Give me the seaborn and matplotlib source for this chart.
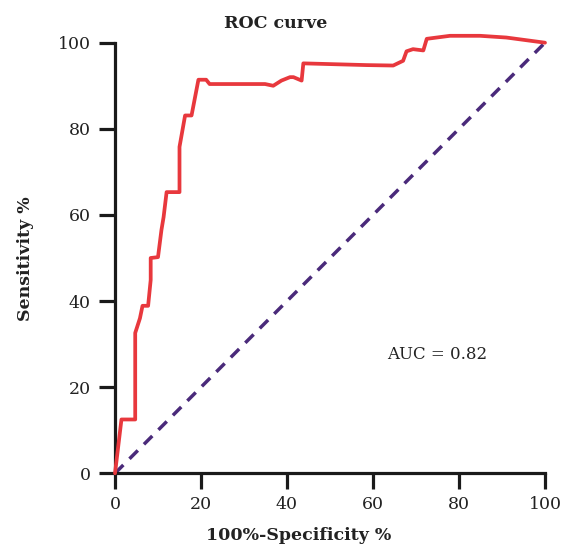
import matplotlib
matplotlib.use("Agg")
import matplotlib.pyplot as plt
import seaborn as sns
import pandas as pd

# ROC curve points (100%-Specificity %, Sensitivity %)
fpr = [0, 1.5, 4.7, 4.7, 5.8, 6.4, 7.7, 8.3, 8.3, 10.0, 10.8, 11.3, 12.0, 15.0, 15.0, 16.3, 17.8,
       19.4, 21.2, 22.0, 34.9, 36.8, 38.7, 40.7, 41.5, 43.4, 43.8, 58.5, 64.7, 67.0, 67.8,
       69.3, 71.7, 72.5, 77.9, 84.9, 91.0, 100]
tpr = [0, 12.5, 12.5, 32.6, 36.0, 38.9, 38.9, 44.9, 50.0, 50.2, 56.5, 59.5, 65.3, 65.3, 75.8, 83.1, 83.1,
       91.4, 91.4, 90.4, 90.4, 90.0, 91.2, 92.0, 92.0, 91.2, 95.2, 94.8, 94.7, 95.8, 98.0,
       98.5, 98.2, 100.9, 101.6, 101.6, 101.2, 100]
diag = [0, 100]
xticks = [0, 20, 40, 60, 80, 100]
yticks = [0, 20, 40, 60, 80, 100]
title = "ROC curve"
xlabel = "100%-Specificity %"
ylabel = "Sensitivity %"
auc_text = "AUC = 0.82"

sns.set_style("ticks")
plt.rcParams['font.family'] = ['DejaVu Serif']

fig = plt.figure(figsize=(5.61, 5.47), dpi=100)
ax = fig.add_axes([115/561, 1-473.3/547, 430/561, 430.6/547])

roc = pd.DataFrame({"fpr": fpr, "tpr": tpr})
dg = pd.DataFrame({"x": diag, "y": diag})

sns.lineplot(data=dg, x="x", y="y", ax=ax, color="#4a2a7a", lw=2.5,
             dashes=False, linestyle=(0, (3.4, 2.5)), sort=False, estimator=None, zorder=2)
sns.lineplot(data=roc, x="fpr", y="tpr", ax=ax, color="#e8383d", lw=2.7,
             sort=False, estimator=None, zorder=3)
for l in ax.lines:
    l.set_clip_on(False)

ax.set_xlim(0, 100)
ax.set_ylim(0, 100)
ax.set_xticks(xticks)
ax.set_yticks(yticks)
sns.despine(ax=ax)
for s in ["left", "bottom"]:
    ax.spines[s].set_linewidth(2.3)
    ax.spines[s].set_color("#1a1a1a")
ax.tick_params(axis="both", length=11.5, width=2.3, color="#1a1a1a",
               labelsize=12.5, labelcolor="#222222", direction="out")
ax.tick_params(axis="y", pad=6)
ax.tick_params(axis="x", pad=5)

ax.set_xlabel("")
ax.set_ylabel("")
fig.text(299/561, 1-536/547, xlabel, ha="center", va="center", fontsize=12.5,
         fontweight="bold", color="#222222")
fig.text(25/561, 1-259/547, ylabel, ha="center", va="center", rotation=90,
         fontsize=12.5, fontweight="bold", color="#222222")
fig.text(276/561, 1-23/547, title, ha="center", va="center", fontsize=12.5,
         fontweight="bold", color="#222222")
ax.text(63.2, 27.7, auc_text, ha="left", va="center", fontsize=12, color="#222222")

fig.savefig("out.png", dpi=100)
